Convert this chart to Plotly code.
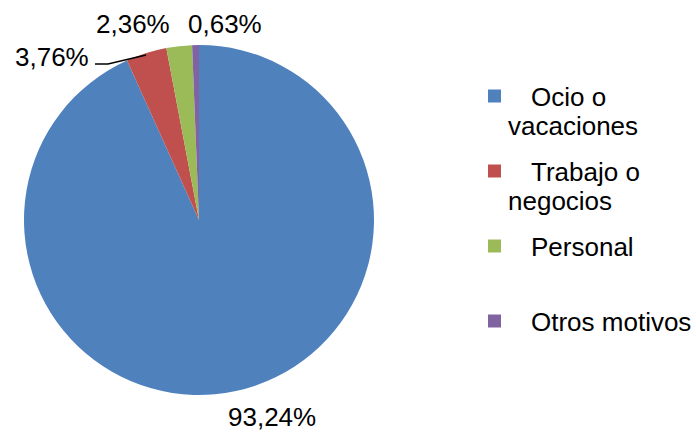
import plotly.graph_objects as go

# Motivo del viaje (%)
motivos = ["Ocio o vacaciones", "Trabajo o negocios", "Personal", "Otros motivos"]
porcentajes = [93.24, 3.76, 2.36, 0.63]
colores = ["#4F81BD", "#C0504D", "#9BBB59", "#8064A2"]

W, H = 696, 432
FONT = "Liberation Sans, Arial, sans-serif"


def px(x):
    return x / W


def py(y):
    return 1 - y / H


# pixel spots of the percentage labels (centre of text)
label_xy = [(272, 417), (52, 57), (133, 24), (225, 24)]
# legend text wrapped like the original
legend_lines = [["Ocio o", "vacaciones"], ["Trabajo o", "negocios"], ["Personal"], ["Otros motivos"]]

fig = go.Figure(go.Pie(
    labels=motivos,
    values=porcentajes,
    sort=False,
    direction="clockwise",
    rotation=0,
    marker=dict(colors=colores, line=dict(color="white", width=0)),
    textinfo="none",
    showlegend=False,
    domain=dict(x=[px(24), px(374)], y=[py(395), py(45)]),
    hovertemplate="%{label}: %{value}%<extra></extra>",
))

for v, (x, y) in zip(porcentajes, label_xy):
    fig.add_annotation(
        x=px(x), y=py(y), xref="paper", yref="paper",
        text=f"{v:.2f}%".replace(".", ","),
        showarrow=False, xanchor="center", yanchor="middle", borderpad=0,
        font=dict(size=26, color="black", family=FONT),
    )

# leader line for the 3,76% label
fig.add_shape(
    type="path", xref="paper", yref="paper",
    path="M {:.4f},{:.4f} L {:.4f},{:.4f} L {:.4f},{:.4f}".format(
        px(95), py(64), px(108), py(64), px(146), py(55)),
    line=dict(color="black", width=1.5),
)

# legend: colour swatch + wrapped text
for i, (lines, col) in enumerate(zip(legend_lines, colores)):
    yc = 96 + 75 * i
    fig.add_shape(
        type="rect", xref="paper", yref="paper",
        x0=px(488), x1=px(501), y0=py(yc + 6.5), y1=py(yc - 6.5),
        fillcolor=col, line=dict(width=0),
    )
    for k, line in enumerate(lines):
        fig.add_annotation(
            x=px(529 if k == 0 else 506), y=py(yc + 1 + 29 * k),
            xref="paper", yref="paper",
            text=line, showarrow=False, xanchor="left", yanchor="middle",
            font=dict(size=26, color="black", family=FONT),
        )

fig.update_layout(
    width=W,
    height=H,
    margin=dict(l=0, r=0, t=0, b=0),
    paper_bgcolor="white",
    font=dict(family=FONT, size=26, color="black"),
    showlegend=False,
)

# drop the page's default body margin so the figure sits at 0,0
fig.write_html("out.html", config={"displayModeBar": False},
               post_script="document.body.style.margin='0';")
